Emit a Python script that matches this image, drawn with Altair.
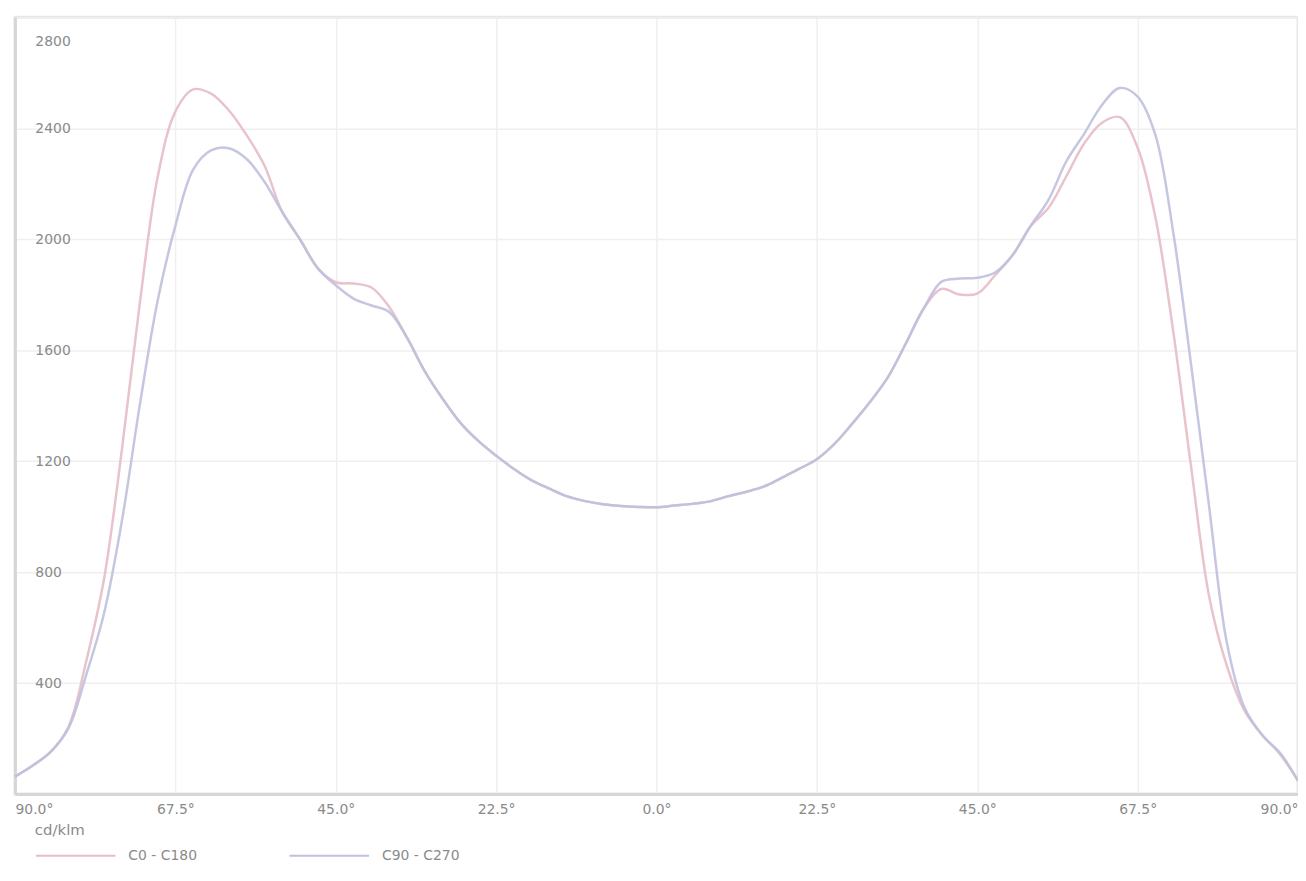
import altair as alt
import pandas as pd

angles = [-90, -87.5, -85, -82.5, -80, -77.5, -75, -72.5, -70, -67.5, -65, -62.5,
          -60, -57.5, -55, -52.5, -50, -47.5, -45, -42.5, -40, -37.5, -35, -32.5,
          -30, -27.5, -25, -22.5, -20, -17.5, -15, -12.5, -10, -7.5, -5, -2.5,
          0, 2.5, 5, 7.5, 10, 12.5, 15, 17.5, 20, 22.5, 25, 27.5,
          30, 32.5, 35, 37.5, 40, 42.5, 45, 47.5, 50, 52.5, 55, 57.5,
          60, 62.5, 65, 67.5, 70, 72.5, 75, 77.5, 80, 82.5, 85, 87.5, 90]

c0_c180 = [63, 103, 152, 242, 479, 776, 1241, 1766, 2222, 2460, 2540, 2525,
           2465, 2375, 2266, 2098, 1999, 1895, 1845, 1840, 1826, 1756, 1645, 1524,
           1425, 1338, 1273, 1220, 1172, 1131, 1101, 1073, 1056, 1045, 1038, 1035,
           1034, 1040, 1046, 1055, 1073, 1089, 1108, 1139, 1172, 1207, 1263, 1336,
           1415, 1504, 1625, 1751, 1821, 1801, 1804, 1870, 1944, 2048, 2113, 2227,
           2345, 2420, 2440, 2330, 2078, 1667, 1180, 717, 464, 301, 212, 143, 48]

c90_c270 = [63, 103, 152, 237, 430, 652, 984, 1400, 1776, 2048, 2251, 2320,
            2328, 2289, 2207, 2098, 1999, 1895, 1834, 1786, 1761, 1738, 1645, 1524,
            1425, 1338, 1273, 1220, 1172, 1131, 1101, 1073, 1056, 1045, 1038, 1035,
            1034, 1040, 1046, 1055, 1073, 1089, 1108, 1139, 1172, 1207, 1263, 1336,
            1415, 1504, 1625, 1751, 1847, 1858, 1861, 1880, 1944, 2048, 2142, 2281,
            2380, 2484, 2545, 2514, 2375, 2024, 1548, 1043, 548, 311, 212, 148, 48]

series_names = ["C0 - C180", "C90 - C270"]
series_colors = ["#e6bcc6", "#bfc0de"]
x_ticks = [-90, -67.5, -45, -22.5, 0, 22.5, 45, 67.5, 90]
y_ticks = [400, 800, 1200, 1600, 2000, 2400, 2800]

rows = []
for a, v in zip(angles, c0_c180):
    rows.append({"angle": a, "value": v, "series": series_names[0]})
for a, v in zip(angles, c90_c270):
    rows.append({"angle": a, "value": v, "series": series_names[1]})
df = pd.DataFrame(rows)

FONT = "DejaVu Sans"
TXT = "#8a8a8a"

chart = alt.Chart(df).mark_line(
    interpolate="catmull-rom", strokeWidth=2.5, strokeOpacity=0.9
).encode(
    x=alt.X("angle:Q",
            scale=alt.Scale(domain=[-90, 90], nice=False, zero=False),
            axis=alt.Axis(values=x_ticks, title=None,
                          labelExpr="format(abs(datum.value), '.1f') + '°'",
                          labelFlush=True, ticks=False, labelPadding=9,
                          domainColor="#d6d6d6", domainWidth=3,
                          gridColor="#efefef", gridWidth=1.5)),
    y=alt.Y("value:Q",
            scale=alt.Scale(domain=[0, 2800], nice=False),
            axis=alt.Axis(values=y_ticks, title=None, ticks=False, format="d",
                          labelAlign="left", labelPadding=-20,
                          labelFlush=True, labelFlushOffset=-17,
                          domainColor="#d6d6d6", domainWidth=3,
                          gridColor="#efefef", gridWidth=1.5)),
    color=alt.Color("series:N",
                    scale=alt.Scale(domain=series_names, range=series_colors),
                    legend=alt.Legend(title="cd/klm", orient="none",
                                      legendX=20, legendY=810,
                                      direction="horizontal",
                                      symbolType="M-1,0L7,0", symbolSize=400,
                                      symbolStrokeWidth=2, labelOffset=72,
                                      columnPadding=88, titlePadding=7)),
).properties(
    width=1290, height=781,
    autosize=alt.AutoSizeParams(type="none"),
    padding={"left": 7, "top": 7, "right": 0, "bottom": 70}
).configure_view(
    stroke="#e6e6e6", strokeWidth=3
).configure_axis(
    labelFont=FONT, labelFontSize=14, labelColor=TXT
).configure_legend(
    titleFont=FONT, titleFontSize=15, titleFontWeight="normal", titleColor=TXT,
    labelFont=FONT, labelFontSize=14, labelColor=TXT
)

chart.save("out.html", embed_options={"renderer": "svg", "actions": False})
